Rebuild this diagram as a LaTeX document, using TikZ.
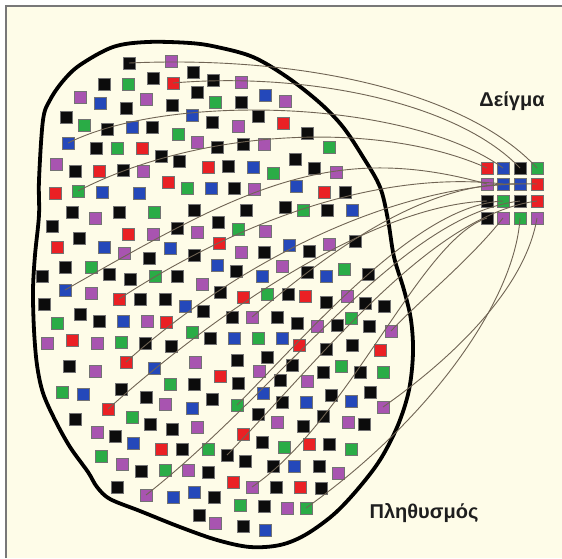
\documentclass[tikz,border=0pt]{standalone}
\usepackage{fontspec}
\setmainfont{Liberation Sans}
\definecolor{cK}{RGB}{12,12,12}
\definecolor{cP}{RGB}{168,84,176}
\definecolor{cR}{RGB}{234,32,36}
\definecolor{cG}{RGB}{42,172,70}
\definecolor{cB}{RGB}{36,72,186}
\definecolor{bg}{RGB}{254,252,232}
\definecolor{linkc}{RGB}{112,100,84}
\definecolor{framec}{RGB}{120,120,120}
\definecolor{txt}{RGB}{30,30,30}
\begin{document}
\begin{tikzpicture}[x=1pt,y=-1pt,
  sq/.style={draw=black!55, line width=0.5pt, minimum size=12pt, inner sep=0pt, outer sep=0pt},
  link/.style={draw=linkc, line width=0.9pt},
  blob/.style={draw=black, line width=3.8pt},
  framel/.style={draw=framec, line width=1.8pt},
  lbl/.style={font=\bfseries\fontsize{20}{24}\selectfont, text=txt, inner sep=0pt}]
\useasboundingbox (0,0) rectangle (562,558);
\fill[white] (0,0) rectangle (562,558);
\fill[bg] (6,6) rectangle (562,558);
\draw[framel] (6,558) -- (6,6) -- (562,6);
% population outline
\draw[blob] plot[smooth cycle, tension=0.55] coordinates {
 (147,42) (190,43) (217,47) (253,57) (287,77) (320,103) (343,127) (363,157) (380,187)
 (388,220) (394,257) (404,290) (411,320) (413,353) (409,390) (398,425) (380,460)
 (357,490) (333,515) (305,535) (280,545) (250,547) (217,540) (180,527) (140,511)
 (110,499) (97,487) (88,472) (70,447) (55,420) (43,393) (37,365) (34,330) (33,290)
 (35,255) (39,215) (39,180) (43,120) (50,100) (63,81) (80,65) (113,47)};
% population squares
\foreach \x/\y/\c [count=\i] in {
 171/61/cP,153/78/cK,193/72/cK,213/80/cK,104/84/cK,128/84/cG,197/92/cK,80/97/cP,100/103/cB,146/99/cP,
 126/108/cK,172/105/cK,215/102/cG,192/115/cB,212/122/cK,66/117/cK,84/125/cG,107/129/cK,132/127/cB,152/127/cK,
 178/134/cG,197/142/cP,217/147/cK,96/148/cK,117/148/cG,142/148/cR,161/156/cK,179/161/cK,56/164/cP,75/171/cK,
 99/171/cR,123/170/cK,143/171/cP,208/167/cR,168/182/cR,55/193/cR,102/192/cB,139/193/cB,187/188/cG,211/188/cB,
 241/82/cP,241/102/cK,265/95/cB,285/101/cP,258/116/cK,238/126/cP,283/123/cR,307/133/cK,243/144/cK,264/144/cP,
 329/147/cG,228/166/cK,253/167/cB,273/173/cG,295/159/cK,314/168/cK,336/172/cP,234/188/cK,254/189/cP,296/186/cB,
 324/192/cR,345/192/cK,
 72/212/cK,95/218/cP,119/212/cK,154/212/cG,194/210/cK,246/210/cK,285/207/cK,303/210/cG,327/210/cK,352/210/cB,
 52/226/cK,79/238/cK,128/234/cR,153/234/cP,177/228/cK,197/232/cP,218/222/cK,219/243/cR,57/247/cR,104/247/cB,
 124/253/cP,170/248/cB,149/258/cK,194/255/cK,65/267/cK,91/267/cG,217/265/cB,42/276/cK,109/274/cK,130/279/cK,
 155/276/cG,177/276/cK,202/284/cP,220/292/cK,91/293/cP,140/299/cK,165/299/cK,185/306/cB,203/311/cK,44/304/cK,
 80/314/cK,99/321/cK,123/321/cB,147/321/cP,166/322/cR,57/323/cG,192/332/cG,210/338/cK,47/343/cP,72/340/cR,
 97/343/cP,121/342/cG,145/343/cK,171/346/cK,154/368/cB,195/362/cP,69/366/cK,95/371/cP,
 238/229/cG,265/231/cP,241/252/cP,264/252/cK,289/245/cB,309/251/cK,329/244/cP,355/241/cK,236/271/cK,282/266/cP,
 262/276/cB,307/272/cK,326/276/cB,344/269/cG,368/274/cK,243/297/cR,267/294/cG,288/294/cK,305/296/cR,326/302/cK,
 347/296/cP,365/303/cK,384/306/cK,232/317/cK,277/317/cK,297/323/cK,317/326/cP,337/325/cK,351/318/cG,369/326/cK,
 234/338/cB,258/338/cG,282/338/cB,299/345/cR,326/349/cK,352/345/cK,380/350/cR,237/360/cK,267/357/cK,292/365/cK,
 341/366/cG,360/372/cK,383/372/cG,259/371/cP,323/372/cK,220/376/cR,
 62/392/cG,83/394/cB,121/389/cK,170/384/cG,194/384/cK,146/397/cK,165/404/cP,192/408/cB,212/399/cK,132/417/cG,
 75/419/cK,150/424/cK,172/429/cK,197/427/cP,97/432/cP,115/436/cK,133/443/cB,161/449/cR,182/449/cK,208/449/cG,
 101/456/cG,122/464/cP,141/471/cK,165/470/cG,188/470/cP,208/472/cK,117/487/cK,173/497/cB,194/492/cB,214/497/cK,
 199/515/cK,215/523/cP,
 238/383/cK,280/380/cK,307/381/cP,263/393/cB,282/402/cK,306/402/cB,331/395/cK,351/401/cB,370/392/cK,258/414/cK,
 277/422/cP,303/426/cK,323/416/cK,348/422/cP,364/424/cK,243/434/cR,262/442/cK,284/447/cG,309/444/cR,329/444/cK,
 351/449/cG,245/461/cK,273/466/cK,294/466/cB,319/466/cK,338/473/cP,233/482/cR,276/487/cK,300/487/cR,321/488/cK,
 240/505/cG,264/506/cK,287/508/cP,243/526/cK,265/530/cB}
 \node[sq, fill=\c] (q\i) at (\x,\y) {};
% population squares that carry a connector
\node[sq, fill=cK] (pA) at (129,63) {};
\node[sq, fill=cR] (pB) at (173,83) {};
\node[sq, fill=cB] (pC) at (68,143) {};
\node[sq, fill=cG] (pD) at (78,191) {};
\node[sq, fill=cB] (pE) at (65,290) {};
\node[sq, fill=cR] (pF) at (119,299) {};
\node[sq, fill=cR] (pG) at (126,362) {};
\node[sq, fill=cR] (pH) at (108,409) {};
\node[sq, fill=cP] (pI) at (146,495) {};
\node[sq, fill=cK] (pJ) at (227,455) {};
\node[sq, fill=cP] (pK) at (252,487) {};
\node[sq, fill=cG] (pL) at (237,405) {};
\node[sq, fill=cP] (pM) at (252,317) {};
\node[sq, fill=cP] (pN) at (391,331) {};
\node[sq, fill=cG] (pO) at (306,508) {};
\node[sq, fill=cP] (pP) at (383,407) {};
% sample
\node[sq, fill=cR] (s11) at (487,168) {};
\node[sq, fill=cB] (s12) at (503,168) {};
\node[sq, fill=cK] (s13) at (520,168) {};
\node[sq, fill=cG] (s14) at (537,168) {};
\node[sq, fill=cP] (s21) at (487,184) {};
\node[sq, fill=cB] (s22) at (503,184) {};
\node[sq, fill=cB] (s23) at (520,184) {};
\node[sq, fill=cR] (s24) at (537,184) {};
\node[sq, fill=cK] (s31) at (487,201) {};
\node[sq, fill=cG] (s32) at (503,201) {};
\node[sq, fill=cK] (s33) at (520,201) {};
\node[sq, fill=cR] (s34) at (537,201) {};
\node[sq, fill=cK] (s41) at (487,218) {};
\node[sq, fill=cP] (s42) at (503,218) {};
\node[sq, fill=cG] (s43) at (520,218) {};
\node[sq, fill=cP] (s44) at (537,218) {};
% connectors
\draw[link] (pA.center) .. controls (310,55) and (470,95) .. (s14.center);
\draw[link] (pB.center) .. controls (300,72) and (455,100) .. (s13.center);
\draw[link] (pC.center) .. controls (170,92) and (410,100) .. (s12.center);
\draw[link] (pD.center) .. controls (200,128) and (380,120) .. (s11.center);
\draw[link] (pE.center) .. controls (240,190) and (330,140) .. (s21.center);
\draw[link] (pF.center) .. controls (240,220) and (380,170) .. (s22.center);
\draw[link] (pM.center) .. controls (320,260) and (420,180) .. (s23.center);
\draw[link] (pG.center) .. controls (240,260) and (400,180) .. (s24.center);
\draw[link] (pH.center) .. controls (230,300) and (380,205) .. (s31.center);
\draw[link] (pL.center) .. controls (320,320) and (420,205) .. (s32.center);
\draw[link] (pI.center) .. controls (280,390) and (400,215) .. (s33.center);
\draw[link] (pJ.center) .. controls (320,360) and (430,215) .. (s34.center);
\draw[link] (pK.center) .. controls (350,420) and (420,240) .. (s41.center);
\draw[link] (s42.center) .. controls (470,260) and (420,300) .. (pN.center);
\draw[link] (s43.center) .. controls (515,300) and (430,420) .. (pO.center);
\draw[link] (s44.center) .. controls (525,290) and (450,360) .. (pP.center);
% labels
\node[lbl] (tsample) at (512,101) {Δείγμα};
\node[lbl] (tpop) at (424,513) {Πληθυσμός};
\end{tikzpicture}
\end{document}
